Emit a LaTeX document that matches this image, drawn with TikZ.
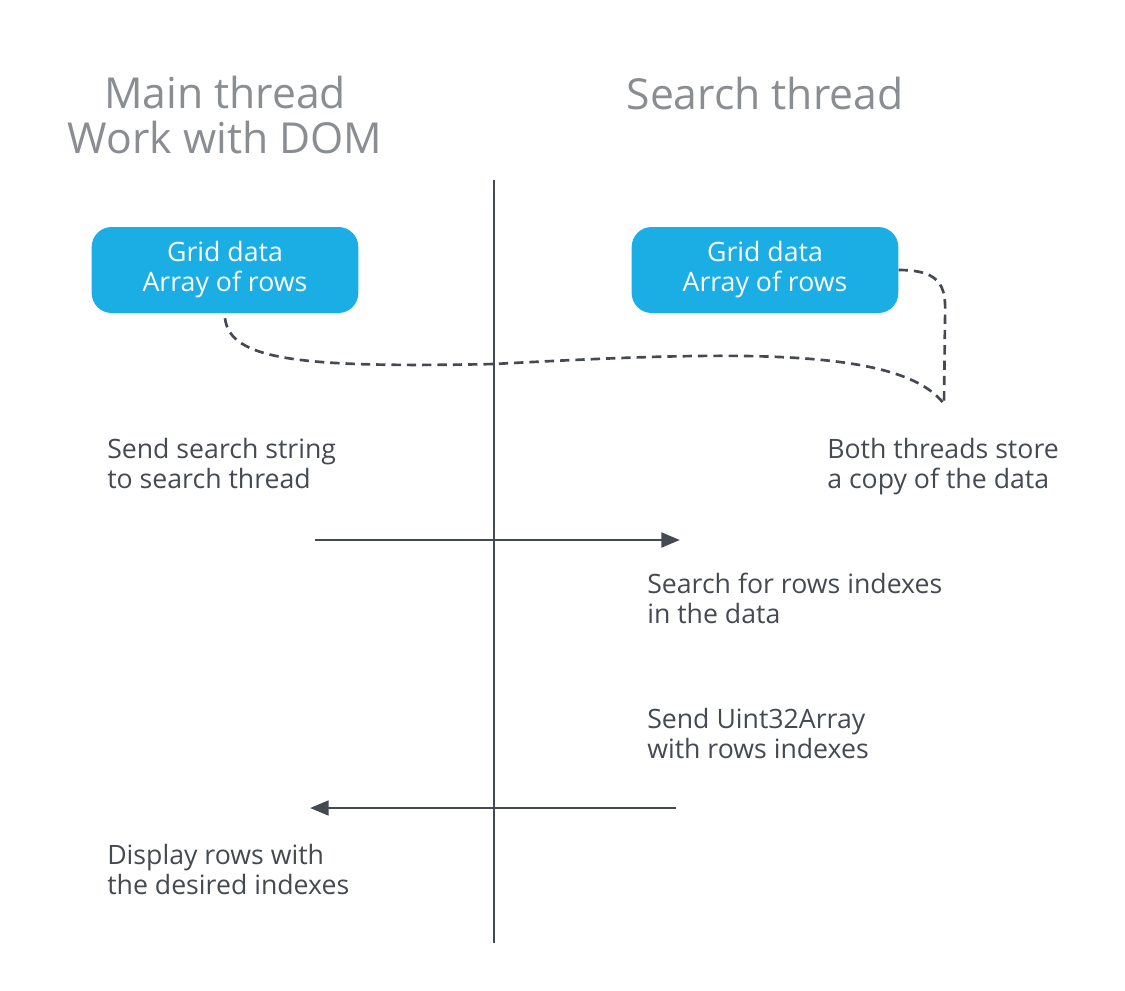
\documentclass[tikz,border=0pt]{standalone}
\usepackage{fontspec}
\setmainfont{Open Sans}
\usepackage{xcolor}
\usetikzlibrary{arrows.meta}
\definecolor{gridblue}{RGB}{27,174,228}
\definecolor{inkgrey}{RGB}{69,74,82}
\definecolor{headgrey}{RGB}{138,141,145}
\tikzset{
  head/.style={text=headgrey,font=\fontsize{32}{34}\selectfont,align=center,inner sep=0.75pt},
  note/.style={anchor=north west,text=inkgrey,font=\fontsize{20}{22.5}\selectfont,align=left,inner sep=0.75pt},
  databox/.style={fill=gridblue,rounded corners=15pt,text=white,font=\fontsize{20}{22.5}\selectfont,align=center,minimum width=200pt,minimum height=64.5pt},
  msg/.style={draw=inkgrey,line width=2.2pt,-{Triangle[length=14pt,width=11pt]}}
}
\begin{document}
\begin{tikzpicture}[x=0.75pt,y=0.75pt,yscale=-1,xscale=1]
        \useasboundingbox (0,0) rectangle (1125,990);
        % headings
        \node[head] (mainhead) at (225,115) {Main thread\\Work with DOM};
        \node[head] (searchhead) at (765,93) {Search thread};
        % timeline
        \coordinate (top) at (494,180);
        \coordinate (bottom) at (494,943);
        \draw[inkgrey,line width=2.2pt] (top) -- (bottom);
        % data boxes
        \node[databox] (leftgrid) at (225,270) {Grid data\\Array of rows};
        \node[databox] (rightgrid) at (765,270) {Grid data\\Array of rows};
        % shared copy
        \coordinate (join) at (944,404);
        \draw[inkgrey,line width=2pt,dash pattern=on 7pt off 4.5pt] (leftgrid.south) ++(0,5) .. controls (230,360) and (300,368) .. (494,364) .. controls (720,352) and (900,345) .. (join);
        \draw[inkgrey,line width=2pt,dash pattern=on 7pt off 4.5pt] (rightgrid.east) ++(0,0) .. controls (945,270) and (946,290) .. (945,320) -- (join);
        % notes
        \node[note] (sendsearch) at (106,437) {Send search string\\to search thread};
        \node[note] (bothstore) at (826,437) {Both threads store\\a copy of the data};
        \node[note] (searchrows) at (646,572) {Search for rows indexes\\in the data};
        \node[note] (senduint) at (646,707) {Send Uint32Array\\with rows indexes};
        \node[note] (display) at (106,843) {Display rows with\\the desired indexes};
        % messages
        \coordinate (reqstart) at (315,540);
        \coordinate (reqend) at (680,540);
        \coordinate (respstart) at (676,808);
        \coordinate (respend) at (310,808);
        \draw[msg] (reqstart) -- (reqend);
        \draw[msg] (respstart) -- (respend);
\end{tikzpicture}
\end{document}
